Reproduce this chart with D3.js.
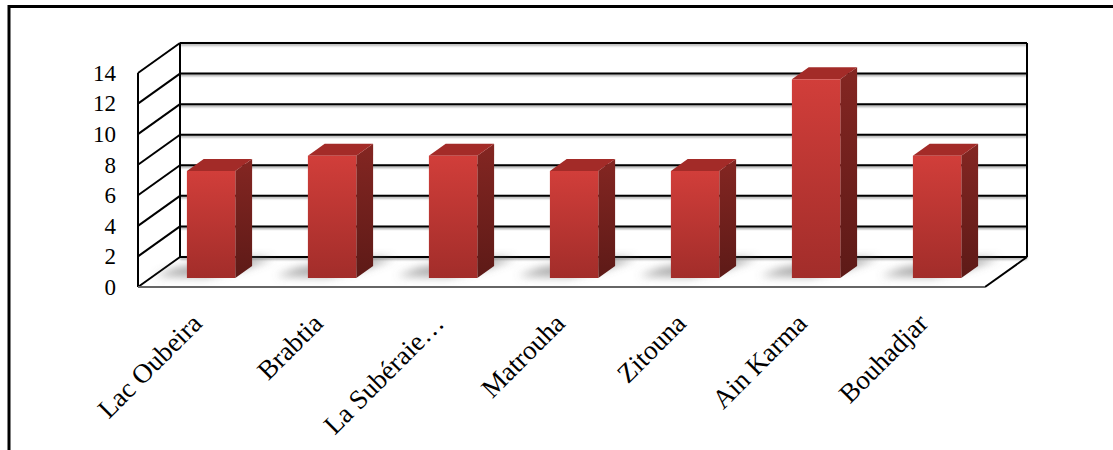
<!DOCTYPE html>
<html>
<head>
<meta charset="utf-8">
<script src="https://cdn.jsdelivr.net/npm/d3@7"></script>
<style>
  html, body { margin: 0; padding: 0; background: #fff; }
  svg { display: block; }
  text { font-family: "Liberation Serif", "Times New Roman", serif; fill: #000; }
</style>
</head>
<body>
<svg id="chart" width="1113" height="450"></svg>
<script>
// Sites and their counts
const categories = ["Lac Oubeira", "Brabtia", "La Subéraie…", "Matrouha", "Zitouna", "Ain Karma", "Bouhadjar"];
const values = [7, 8, 8, 7, 7, 13, 8];
const yTicks = [0, 2, 4, 6, 8, 10, 12, 14];

const FONT = '"Liberation Serif", "Times New Roman", serif';
const svg = d3.select("#chart");
const W = 1113, H = 450;

// Oblique depth of the 3D box (floor / walls)
const depthX = 42, depthY = -30;
// Bars occupy the middle of the depth
const barD0 = 0.3, barD1 = 0.7;

const x = d3.scaleBand().domain(categories).range([138, 985]).paddingInner(0.6).paddingOuter(0.3);
const y = d3.scaleLinear().domain([0, 14]).range([287, 73]);

const defs = svg.append("defs");
const gFront = defs.append("linearGradient").attr("id", "gFront").attr("x1", 0).attr("y1", 0).attr("x2", 0).attr("y2", 1);
gFront.append("stop").attr("offset", "0%").attr("stop-color", "#d13e3a");
gFront.append("stop").attr("offset", "100%").attr("stop-color", "#a22d2a");
const gSide = defs.append("linearGradient").attr("id", "gSide").attr("x1", 0).attr("y1", 0).attr("x2", 0).attr("y2", 1);
gSide.append("stop").attr("offset", "0%").attr("stop-color", "#842622");
gSide.append("stop").attr("offset", "100%").attr("stop-color", "#5d1a17");
const blur = defs.append("filter").attr("id", "soft").attr("x", "-50%").attr("y", "-50%").attr("width", "200%").attr("height", "200%");
blur.append("feGaussianBlur").attr("stdDeviation", 4);
const lineBlur = defs.append("filter").attr("id", "lineShadow").attr("x", "-5%").attr("y", "-100%").attr("width", "110%").attr("height", "400%");
lineBlur.append("feGaussianBlur").attr("stdDeviation", 1);

// Outer frame (left and top edges)
svg.append("line").attr("x1", 9).attr("y1", 5).attr("x2", 9).attr("y2", H).attr("stroke", "#000").attr("stroke-width", 3);
svg.append("line").attr("x1", 8).attr("y1", 6.5).attr("x2", W).attr("y2", 6.5).attr("stroke", "#000").attr("stroke-width", 3);

const x0 = x.range()[0], x1 = x.range()[1];
const yb = v => y(v) + depthY;   // back-wall y
const grid = svg.append("g").attr("stroke", "#000").attr("stroke-width", 2).attr("fill", "none");

// Back-wall gridlines with faint shadow
const gridShadow = svg.insert("g", () => grid.node()).attr("stroke", "#999").attr("stroke-width", 2).attr("filter", "url(#lineShadow)");
yTicks.forEach(t => {
  gridShadow.append("line").attr("x1", x0 + depthX).attr("x2", x1 + depthX).attr("y1", yb(t) + 1.5).attr("y2", yb(t) + 1.5);
});
yTicks.forEach(t => {
  grid.append("line").attr("x1", x0 + depthX).attr("x2", x1 + depthX).attr("y1", yb(t)).attr("y2", yb(t));
  // side-wall diagonals
  grid.append("line").attr("x1", x0).attr("y1", y(t)).attr("x2", x0 + depthX).attr("y2", yb(t));
});
// Wall verticals
grid.append("line").attr("x1", x0).attr("x2", x0).attr("y1", y(0)).attr("y2", y(14));
grid.append("line").attr("x1", x0 + depthX).attr("x2", x0 + depthX).attr("y1", yb(0)).attr("y2", yb(14));
grid.append("line").attr("x1", x1 + depthX).attr("x2", x1 + depthX).attr("y1", yb(0)).attr("y2", yb(14));
// Floor right edge
grid.append("line").attr("x1", x1).attr("y1", y(0)).attr("x2", x1 + depthX).attr("y2", yb(0));

// Floor shadows behind bars
const shadows = svg.append("g").attr("filter", "url(#soft)");
categories.forEach((c, i) => {
  const bx = x(c), bw = x.bandwidth();
  const fx = bx + barD0 * depthX, fy = y(0) + barD0 * depthY;
  const pts = [
    [fx - 32, fy - 2],
    [fx + bw * 0.4, fy - 1],
    [fx + bw + 8, fy - 9],
    [fx + bw + 38, fy - 20],
    [fx + bw - 5, fy - 20],
    [fx - 10, fy - 10]
  ];
  shadows.append("polygon").attr("points", pts.map(p => p.join(",")).join(" "))
    .attr("fill", "#6f6f6f").attr("opacity", 0.6);
});

// Bars: front, side and top faces
const bars = svg.append("g");
categories.forEach((c, i) => {
  const v = values[i];
  const bw = x.bandwidth();
  const fx = x(c) + barD0 * depthX, fyb = y(0) + barD0 * depthY, fyt = y(v) + barD0 * depthY;
  const ddx = (barD1 - barD0) * depthX, ddy = (barD1 - barD0) * depthY;
  const g = bars.append("g");
  // side face
  g.append("polygon")
    .attr("points", [[fx + bw, fyt], [fx + bw + ddx, fyt + ddy], [fx + bw + ddx, fyb + ddy], [fx + bw, fyb]].map(p => p.join(",")).join(" "))
    .attr("fill", "url(#gSide)");
  // top face
  g.append("polygon")
    .attr("points", [[fx, fyt], [fx + ddx, fyt + ddy], [fx + bw + ddx, fyt + ddy], [fx + bw, fyt]].map(p => p.join(",")).join(" "))
    .attr("fill", "#a32b28");
  // front face
  g.append("rect").attr("x", fx).attr("y", fyt).attr("width", bw).attr("height", fyb - fyt)
    .attr("fill", "url(#gFront)");
});

// Front floor edge
svg.append("line").attr("x1", x0).attr("x2", x1).attr("y1", y(0) + 2).attr("y2", y(0) + 2)
  .attr("stroke", "#bbb").attr("stroke-width", 2).attr("filter", "url(#lineShadow)");
svg.append("line").attr("x1", x0).attr("x2", x1).attr("y1", y(0)).attr("y2", y(0))
  .attr("stroke", "#666").attr("stroke-width", 2);

// Value axis labels
const yAxis = d3.axisLeft(y).tickValues(yTicks).tickSize(0).tickPadding(22);
const ya = svg.append("g").attr("transform", `translate(${x0},0)`).call(yAxis);
ya.attr("font-family", null).attr("font-size", null);
ya.select(".domain").remove();
ya.selectAll("text").style("font-family", FONT).style("font-size", "23px").attr("fill", "#000");

// Category labels, rotated
const xLab = svg.append("g");
categories.forEach(c => {
  const cx = x(c) + x.bandwidth() / 2;
  xLab.append("text")
    .attr("transform", `translate(${cx + 5},${325}) rotate(-45)`)
    .attr("text-anchor", "end")
    .style("font-family", FONT)
    .style("font-size", "27px")
    .text(c);
});
</script>
</body>
</html>
